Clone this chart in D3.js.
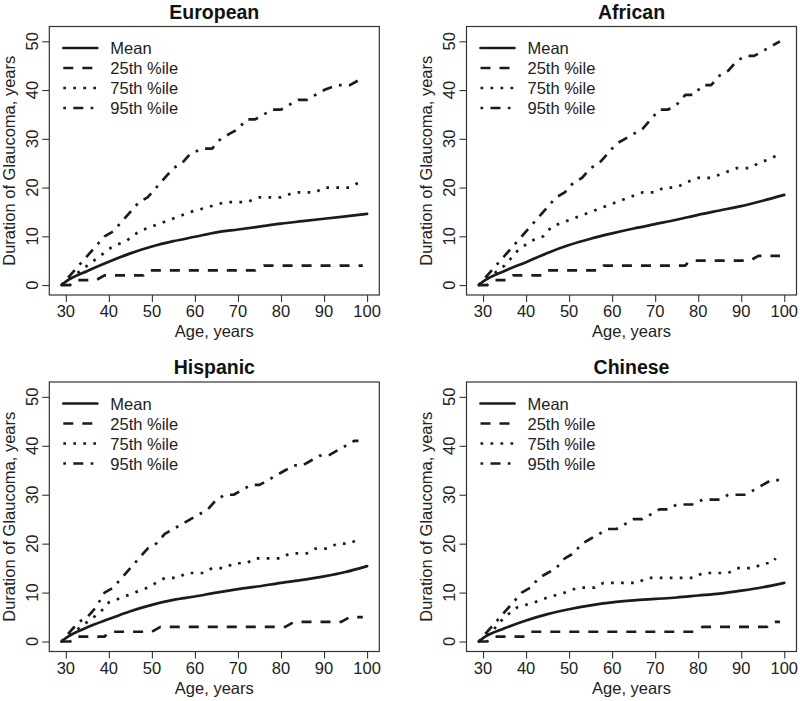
<!DOCTYPE html>
<html>
<head>
<meta charset="utf-8">
<script src="https://cdn.jsdelivr.net/npm/d3@7"></script>
<style>
  html, body { margin: 0; padding: 0; background: #fff; }
  svg { display: block; font-family: "Liberation Sans", Arial, Helvetica, sans-serif; }
</style>
</head>
<body>
<svg id="chart" width="800" height="701"></svg>
<script>
// ---------------- DATA ----------------
const regions = ["European", "African", "Hispanic", "Chinese"];
const seriesNames = ["Mean", "25th %ile", "75th %ile", "95th %ile"];
const xTicks = [30, 40, 50, 60, 70, 80, 90, 100];
const yTicks = [0, 10, 20, 30, 40, 50];
const xLabel = "Age, years";
const yLabel = "Duration of Glaucoma, years";

// [age, years] points
const europeanMean = [[29,0],[30,0.7],[35,2.9],[40,4.8],[45,6.5],[50,7.9],[55,9.0],[60,9.9],[65,10.8],[70,11.4],[75,12.0],[80,12.6],[85,13.1],[90,13.6],[95,14.1],[100,14.6]];
const europeanP25 = [[29,0],[31,0],[32,1],[37,1],[39,2],[48,2],[49,3],[74,3],[76,4],[99,4]];
const europeanP75 = [[29,0],[32,2],[35,4],[38,6],[41,8],[44,9],[47,11],[50,12],[53,13],[56,14],[59,15],[63,16],[67,17],[72,17],[75,18],[80,18],[83,19],[88,19],[90,20],[96,20],[98,21]];
const europeanP95 = [[29,0],[31,2],[33,4],[35,6],[37,8],[39,10],[41,11],[43,13],[45,15],[47,17],[49,18],[51,20],[53,22],[55,24],[57,25],[59,27],[62,28],[64,28],[66,30],[68,31],[70,32],[72,34],[74,34],[76,35],[78,36],[80,36],[82,37],[84,38],[86,38],[88,39],[90,40],[93,41],[96,41],[98,42]];

const africanMean = [[29,0],[30,0.7],[35,2.9],[40,4.7],[45,6.6],[50,8.2],[55,9.5],[60,10.6],[65,11.6],[70,12.5],[75,13.4],[80,14.4],[85,15.3],[90,16.2],[95,17.3],[100,18.5]];
const africanP25 = [[29,0],[31,0],[32,1],[36,1],[37,2],[44,2],[45,3],[57,3],[58,4],[77,4],[78,5],[92,5],[94,6],[99,6]];
const africanP75 = [[29,0],[32,2],[35,4],[38,7],[41,9],[44,10],[46,12],[49,13],[52,14],[55,15],[58,16],[61,17],[64,18],[67,19],[70,19],[72,20],[75,20],[77,21],[80,22],[83,22],[86,23],[89,24],[92,24],[94,25],[97,26],[99,27]];
const africanP95 = [[29,0],[31,2],[33,4],[35,6],[37,8],[39,10],[41,12],[43,14],[45,16],[47,18],[49,19],[51,21],[53,22],[55,24],[57,25],[59,27],[61,29],[63,30],[65,31],[67,32],[69,34],[71,36],[73,36],[75,37],[77,39],[79,39],[81,41],[83,41],[85,43],[87,44],[89,46],[91,47],[93,47],[95,48],[97,49],[99,50]];

const hispanicMean = [[29,0],[30,0.7],[35,2.9],[40,4.6],[45,6.2],[50,7.5],[55,8.5],[60,9.2],[65,10.0],[70,10.7],[75,11.3],[80,12.0],[85,12.6],[90,13.3],[95,14.2],[100,15.4]];
const hispanicP25 = [[29,0],[31,0],[32,1],[39,1],[40,2],[50,2],[52,3],[81,3],[83,4],[94,4],[96,5],[99,5]];
const hispanicP75 = [[29,0],[32,2],[35,4],[38,6],[40,8],[43,9],[46,10],[49,11],[51,12],[53,13],[56,13],[58,14],[62,14],[64,15],[67,15],[69,16],[72,16],[74,17],[80,17],[82,18],[86,18],[88,19],[91,19],[93,20],[96,20],[98,21]];
const hispanicP95 = [[29,0],[31,2],[33,4],[35,5],[37,7],[39,10],[41,11],[43,13],[45,15],[47,17],[49,19],[51,20],[53,22],[55,23],[57,24],[59,25],[61,26],[63,27],[65,29],[67,30],[69,30],[71,31],[73,32],[75,32],[77,33],[79,34],[81,35],[83,36],[85,36],[87,37],[89,38],[91,38],[93,39],[95,40],[97,41],[98,41]];

const chineseMean = [[29,0],[30,0.7],[35,2.7],[40,4.3],[45,5.6],[50,6.6],[55,7.4],[60,8.0],[65,8.4],[70,8.7],[75,9.0],[80,9.4],[85,9.8],[90,10.4],[95,11.1],[100,12.0]];
const chineseP25 = [[29,0],[31,0],[32,1],[40,1],[41,2],[79,2],[81,3],[96,3],[97,4],[99,4]];
const chineseP75 = [[29,0],[32,2],[35,5],[38,7],[42,8],[45,9],[49,10],[52,11],[56,11],[58,12],[66,12],[68,13],[79,13],[81,14],[87,14],[89,15],[93,15],[95,16],[97,16],[98,17]];
const chineseP95 = [[29,0],[31,2],[33,4],[35,6],[37,8],[39,10],[41,11],[43,13],[45,14],[47,15],[49,17],[51,18],[53,20],[55,21],[57,22],[59,23],[61,23],[63,24],[65,25],[67,25],[69,26],[71,27],[73,27],[75,28],[79,28],[81,29],[85,29],[87,30],[91,30],[93,31],[95,32],[97,33],[99,33]];

const panelData = [
  [europeanMean, europeanP25, europeanP75, europeanP95],
  [africanMean, africanP25, africanP75, africanP95],
  [hispanicMean, hispanicP25, hispanicP75, hispanicP95],
  [chineseMean, chineseP25, chineseP75, chineseP95]
];

// ---------------- LAYOUT / STYLE ----------------
const boxes = [
  { x0: 49.3, x1: 379.3, y0: 26.5, y1: 295 },
  { x0: 466.5, x1: 796.5, y0: 26.5, y1: 295 },
  { x0: 49.3, x1: 379.3, y0: 382, y1: 651.5 },
  { x0: 466.5, x1: 796.5, y0: 382, y1: 651.5 }
];
const lineStyles = [
  { dash: null, cap: "round" },
  { dash: "10,9", cap: "butt" },
  { dash: "2.7,7.3", cap: "butt" },
  { dash: "2.7,7.3,10,7.3", cap: "butt" }
];
const ink = "#1b1b1b";
const lw = 2.7;
const fs = 16.5;

const svg = d3.select("#chart");

regions.forEach((name, i) => {
  const b = boxes[i];
  const x = d3.scaleLinear().domain([26.16, 102.84]).range([b.x0, b.x1]);
  const y = d3.scaleLinear().domain([-2.04, 53.04]).range([b.y1, b.y0]);
  const g = svg.append("g");

  // x axis ticks
  const xa = g.append("g").attr("transform", `translate(0,${b.y1})`)
    .call(d3.axisBottom(x).tickValues(xTicks).tickSize(7).tickSizeOuter(0).tickFormat(""));
  xa.select(".domain").remove();
  xa.selectAll("line").attr("stroke", "#333").attr("stroke-width", 1.1);
  // y axis ticks
  const ya = g.append("g").attr("transform", `translate(${b.x0},0)`)
    .call(d3.axisLeft(y).tickValues(yTicks).tickSize(7).tickSizeOuter(0).tickFormat(""));
  ya.select(".domain").remove();
  ya.selectAll("line").attr("stroke", "#333").attr("stroke-width", 1.1);

  // x tick labels
  g.selectAll(".xt").data(xTicks).join("text")
    .attr("x", d => x(d)).attr("y", b.y1 + 22)
    .attr("text-anchor", "middle").attr("font-size", fs).attr("fill", "#222")
    .text(d => d);
  // y tick labels (rotated)
  g.selectAll(".yt").data(yTicks).join("text")
    .attr("transform", d => `translate(${b.x0 - 11.5},${y(d)}) rotate(-90)`)
    .attr("text-anchor", "middle").attr("font-size", fs).attr("fill", "#222")
    .text(d => d);

  // axis titles
  g.append("text").attr("x", (b.x0 + b.x1) / 2).attr("y", b.y1 + 42)
    .attr("text-anchor", "middle").attr("font-size", fs).attr("fill", "#222").text(xLabel);
  g.append("text")
    .attr("transform", `translate(${b.x0 - 34.5},${(b.y0 + b.y1) / 2}) rotate(-90)`)
    .attr("text-anchor", "middle").attr("font-size", fs).attr("fill", "#222").text(yLabel);

  // title
  g.append("text").attr("x", (b.x0 + b.x1) / 2).attr("y", b.y0 - 8)
    .attr("text-anchor", "middle").attr("font-size", 19.5).attr("font-weight", "bold")
    .attr("fill", "#111").text(name);

  // lines
  panelData[i].forEach((pts, k) => {
    const gen = d3.line().x(d => x(d[0])).y(d => y(d[1]))
      .curve(k === 0 ? d3.curveMonotoneX : d3.curveLinear);
    g.append("path").attr("d", gen(pts))
      .attr("fill", "none").attr("stroke", ink).attr("stroke-width", lw)
      .attr("stroke-linecap", lineStyles[k].cap).attr("stroke-linejoin", "round")
      .attr("stroke-dasharray", lineStyles[k].dash);
  });

  // legend
  seriesNames.forEach((s, k) => {
    const cy = b.y0 + 21.5 + 20 * k;
    g.append("line").attr("x1", b.x0 + 14).attr("x2", b.x0 + 48)
      .attr("y1", cy).attr("y2", cy)
      .attr("stroke", ink).attr("stroke-width", lw)
      .attr("stroke-linecap", lineStyles[k].cap)
      .attr("stroke-dasharray", lineStyles[k].dash);
    g.append("text").attr("x", b.x0 + 61).attr("y", cy + 6)
      .attr("font-size", fs).attr("fill", "#222").text(s);
  });

  // box
  g.append("rect").attr("x", b.x0).attr("y", b.y0)
    .attr("width", b.x1 - b.x0).attr("height", b.y1 - b.y0)
    .attr("fill", "none").attr("stroke", "#333").attr("stroke-width", 1.2);
});
</script>
</body>
</html>
